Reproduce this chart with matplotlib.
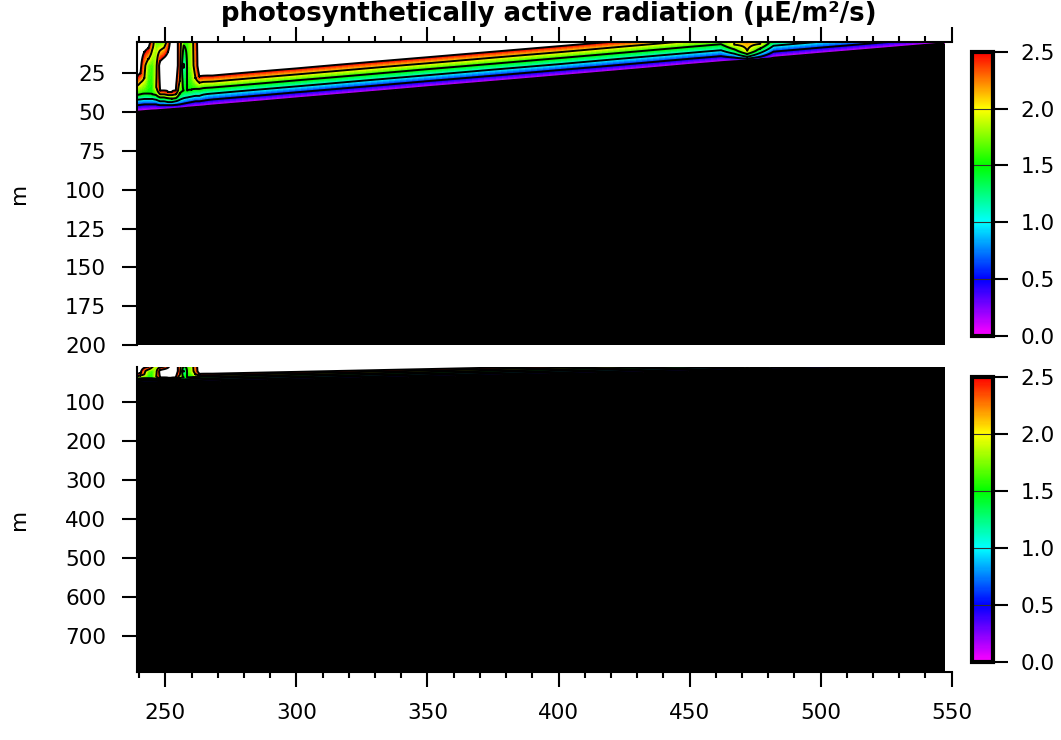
import colorsys
import numpy as np
import matplotlib
matplotlib.use("Agg")
import matplotlib.pyplot as plt
from matplotlib.colors import ListedColormap, Normalize
from matplotlib.cm import ScalarMappable
from matplotlib.ticker import MultipleLocator, FormatStrFormatter

plt.rcParams['font.family'] = ['DejaVu Sans']

# section stations (distance) and the depth (m) at which each PAR contour level sits
levels = [2.5, 2.0, 1.5, 1.0, 0.5, 0.0]
station_x = [239.3, 240.5, 242.0, 243.5, 245.0, 246.5, 248.0, 249.5, 251.0, 252.5,
             254.0, 255.5, 257.0, 258.5, 260.0, 261.5, 263.0, 264.5, 266.0, 268.0,
             300.0, 350.0, 400.0, 450.0, 462.0, 467.0, 472.0, 477.0, 482.0, 500.0,
             547.2]
# values read at the top of the section and at 20 m where plumes / a dome are seen
# (None = plain water column)
top_value = [2.8, 2.8, 2.8, 2.8, 2.2, 1.7, 1.6, 1.7, 2.2, 2.8,
             2.8, 2.2, 1.6, 1.6, 1.8, 2.3, 2.8, None, None, None,
             None, None, None, None, None, 2.0, 2.2, 2.0, None, None,
             None]
mid_value = [2.8, 2.6, 2.1, 1.7, 1.6, 1.9, 2.7, 2.9, 2.9, 2.9,
             2.8, 2.2, 0.95, 1.6, 1.8, 2.2, 2.8, None, None, None,
             None, None, None, None, None, None, None, None, None, None,
             None]
mid_depth = 20.0
nan = np.nan
depth_25 = [27.0, 25.0, nan, nan, nan, nan, 36.0, 36.0, 37.0, 37.0,
            36.0, nan, nan, nan, nan, nan, 27.0, 26.5, 26.4, 26.4,
            21.8, 14.6, 7.5, 0.2, -1.5, nan, nan, nan, -4.4, -7.0,
            -13.7]
depth_20 = [33.0, 31.0, 28.0, nan, nan, 34.0, 38.5, 38.5, 39.0, 39.0,
            38.5, 30.0, nan, nan, nan, 28.0, 31.0, 30.5, 30.4, 30.3,
            25.7, 18.5, 11.4, 4.1, 2.4, 6.5, 10.5, 6.0, -0.5, -3.1,
            -9.8]
depth_15 = [39.0, 38.5, 38.0, 38.0, 38.5, 39.0, 40.5, 40.5, 41.0, 41.3,
            41.0, 38.0, 36.0, 36.0, 35.5, 35.0, 35.0, 34.5, 34.3, 34.1,
            29.5, 22.3, 15.2, 7.9, 6.2, 9.5, 12.5, 9.0, 3.3, 0.7,
            -6.0]
depth_10 = [42.0, 41.8, 41.5, 41.5, 41.5, 42.0, 43.0, 43.0, 43.5, 43.5,
            43.0, 42.0, 41.0, 40.5, 40.0, 39.5, 39.5, 38.7, 38.3, 38.0,
            33.4, 26.2, 19.1, 11.8, 10.1, 12.3, 14.3, 11.8, 7.2, 4.6,
            -2.1]
depth_05 = [45.5, 45.3, 45.0, 45.0, 45.0, 45.0, 45.5, 45.5, 45.5, 45.5,
            45.3, 45.0, 44.5, 44.0, 43.5, 43.0, 43.0, 42.6, 42.2, 41.8,
            37.2, 30.0, 22.9, 15.6, 13.9, 14.8, 15.5, 14.3, 11.0, 8.4,
            1.7]
depth_00 = [49.7, 49.5, 49.3, 49.1, 48.9, 48.8, 48.6, 48.4, 48.2, 48.0,
            47.8, 47.6, 47.4, 47.1, 46.9, 46.7, 46.5, 46.3, 46.0, 45.7,
            41.1, 33.9, 26.8, 19.5, 17.8, 17.2, 16.5, 15.8, 14.9, 12.3,
            5.6]

z_top = 4.6
depth = np.concatenate([np.arange(z_top, 60, 0.1), np.arange(60, 801, 2.0)])

# build the field station by station from the contour depths
level_depths = np.array([depth_25, depth_20, depth_15, depth_10, depth_05, depth_00])
field = np.zeros((len(depth), len(station_x)))
for i in range(len(station_x)):
    zs = []
    vs = []
    if top_value[i] is None:
        zs.append(-200.0)
        vs.append(30.0)
    else:
        zs.append(z_top)
        vs.append(top_value[i])
    if mid_value[i] is not None:
        zs.append(mid_depth)
        vs.append(mid_value[i])
    for lev, d in zip(levels, level_depths[:, i]):
        if not np.isnan(d):
            zs.append(d)
            vs.append(lev)
    zs += [level_depths[-1, i] + 8.0, 900.0]
    vs += [-1.0, -1.0]
    field[:, i] = np.interp(depth, zs, vs)

# rainbow from magenta (0) to red (2.5)
cols = [colorsys.hsv_to_rgb(h, 1, 1) for h in np.linspace(5 / 6, 0, 256)]
cmap = ListedColormap(cols)
cmap.set_under('black')
cmap.set_over('white')

fig = plt.figure(figsize=(10.61, 7.40), dpi=100)
ax1 = fig.add_axes([137.3 / 1061, 395 / 740, 814.4 / 1061, 303.3 / 740])
ax2 = fig.add_axes([137.3 / 1061, 68.3 / 740, 814.4 / 1061, 305 / 740])
fill_levels = np.linspace(0, 2.5, 61)
line_levels = [0.0, 0.5, 1.0, 1.5, 2.0, 2.5]

for ax, ylim in [(ax1, (200, z_top)), (ax2, (793, 8.5))]:
    ax.contourf(station_x, depth, field, levels=fill_levels, cmap=cmap, extend='both')
    ax.contour(station_x, depth, field, levels=line_levels, colors='black', linewidths=1.4)
    ax.set_xlim(239.3, 550)
    ax.set_ylim(*ylim)
    ax.spines['right'].set_visible(False)
    for s in ax.spines.values():
        s.set_linewidth(1.5)
    ax.xaxis.set_major_locator(MultipleLocator(50))
    ax.xaxis.set_minor_locator(MultipleLocator(10))
    ax.tick_params(axis='both', which='major', length=10.5, width=1.5, labelsize=15.5, pad=10)
    ax.tick_params(axis='x', which='minor', length=4.5, width=1.5)
    ax.tick_params(axis='y', which='major', pad=12)

ax1.spines['bottom'].set_visible(False)
ax1.xaxis.tick_top()
ax1.tick_params(axis='x', which='both', labeltop=False)
ax1.set_yticks(np.arange(25, 201, 25))

ax2.spines['top'].set_visible(False)
ax2.set_yticks(np.arange(100, 701, 100))
ax2.tick_params(axis='x', which='major', pad=12)

# colour bars
for rect in [[972.3 / 1061, 404 / 740, 21 / 1061, 284.3 / 740],
             [972.3 / 1061, 78 / 740, 21 / 1061, 285.3 / 740]]:
    cax = fig.add_axes(rect)
    sm = ScalarMappable(norm=Normalize(0, 2.5), cmap=cmap)
    cb = fig.colorbar(sm, cax=cax, ticks=line_levels)
    cb.outline.set_linewidth(3)
    cb.ax.yaxis.set_major_formatter(FormatStrFormatter('%.1f'))
    cb.ax.tick_params(length=10.5, width=1.5, labelsize=15.5, pad=9)
    for v in [0.5, 1.0, 1.5, 2.0]:
        cb.ax.axhline(v, color='#303030', lw=0.8)

fig.text(0.517, 0.981, 'photosynthetically active radiation (µE/m²/s)',
         ha='center', va='center', fontsize=18.7, fontweight='bold')
fig.text(19 / 1061, 1 - 193 / 740, 'm', rotation=90, fontsize=15.5, ha='center', va='center')
fig.text(19 / 1061, 1 - 519 / 740, 'm', rotation=90, fontsize=15.5, ha='center', va='center')

fig.savefig('out.png', dpi=100)
